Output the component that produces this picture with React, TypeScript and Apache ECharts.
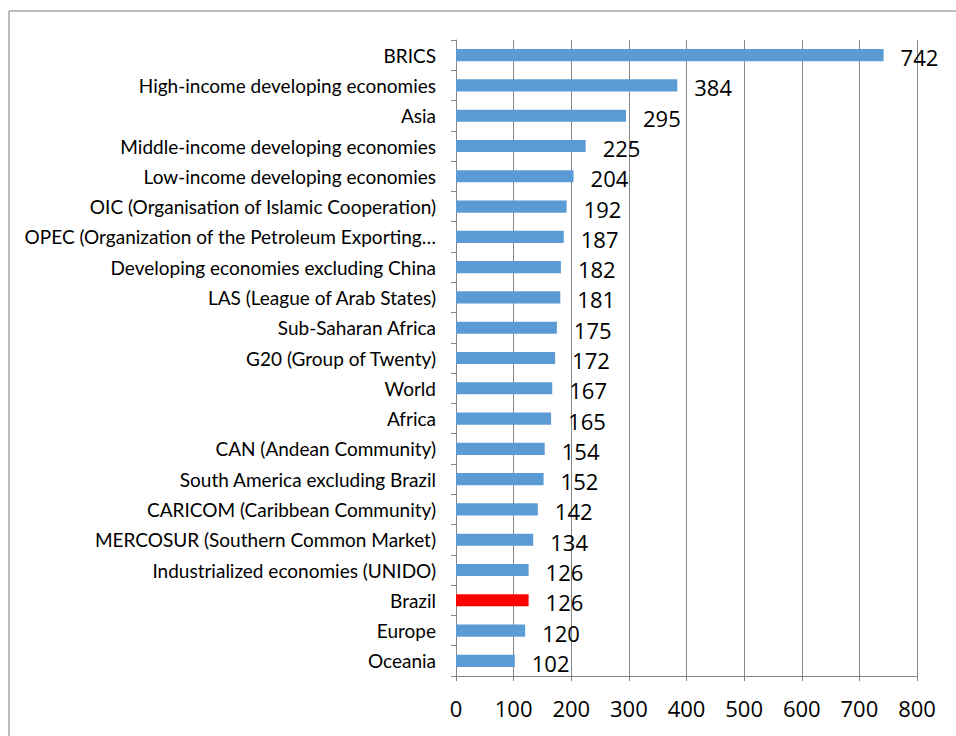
import React, { useEffect, useRef } from "react";
import * as echarts from "echarts";

const categories: string[] = [
  "BRICS",
  "High-income developing economies",
  "Asia",
  "Middle-income developing economies",
  "Low-income developing economies",
  "OIC (Organisation of Islamic Cooperation)",
  "OPEC (Organization of the Petroleum Exporting Countries)",
  "Developing economies excluding China",
  "LAS (League of Arab States)",
  "Sub-Saharan Africa",
  "G20 (Group of Twenty)",
  "World",
  "Africa",
  "CAN (Andean Community)",
  "South America excluding Brazil",
  "CARICOM (Caribbean Community)",
  "MERCOSUR (Southern Common Market)",
  "Industrialized economies (UNIDO)",
  "Brazil",
  "Europe",
  "Oceania",
];

const values: number[] = [
  742, 384, 295, 225, 204, 192, 187, 182, 181, 175, 172, 167, 165, 154, 152, 142, 134, 126, 126, 120, 102,
];

const highlight = "Brazil";
const xTicks: number[] = [0, 100, 200, 300, 400, 500, 600, 700, 800];

const LABEL_FONT = "Lato, sans-serif";
const FONT = "'Open Sans', sans-serif";

export default function App() {
  const ref = useRef<HTMLDivElement>(null);
  useEffect(() => {
    if (!ref.current) return;
    const chart = echarts.init(ref.current, undefined, { renderer: "svg" });
    chart.setOption({
      animation: false,
      backgroundColor: "#ffffff",
      textStyle: { fontFamily: FONT },
      graphic: [
        {
          type: "line",
          shape: { x1: 9, y1: 11, x2: 9, y2: 760 },
          style: { stroke: "#a6a6a6", lineWidth: 1.5 },
          silent: true,
        },
        {
          type: "line",
          shape: { x1: 9, y1: 11, x2: 1000, y2: 11 },
          style: { stroke: "#a6a6a6", lineWidth: 1.5 },
          silent: true,
        },
      ],
      grid: { left: 456, right: 39, top: 40, bottom: 60, containLabel: false },
      xAxis: {
        type: "value",
        min: xTicks[0],
        max: xTicks[xTicks.length - 1],
        interval: 100,
        axisLine: { show: true, lineStyle: { color: "#868686", width: 1 } },
        axisTick: { show: true, length: 5, lineStyle: { color: "#868686" } },
        splitLine: { show: true, lineStyle: { color: "#868686", width: 1 } },
        axisLabel: { fontSize: 22, color: "#000", margin: 21, fontFamily: FONT },
      },
      yAxis: {
        type: "category",
        inverse: true,
        data: categories,
        axisLine: { show: true, lineStyle: { color: "#868686", width: 1 } },
        axisTick: { show: true, length: 5, alignWithLabel: false, lineStyle: { color: "#868686" } },
        axisLabel: {
          fontSize: 19,
          color: "#000",
          margin: 20,
          width: 421,
          overflow: "truncate",
          ellipsis: "…",
          fontFamily: LABEL_FONT,
        },
      },
      series: [
        {
          type: "bar",
          barCategoryGap: "60%",
          data: values.map((v, i) => ({
            value: v,
            itemStyle: { color: categories[i] === highlight ? "#ff0000" : "#5b9bd5" },
          })),
          label: {
            show: true,
            position: "right",
            distance: 17,
            offset: [0, 2],
            fontSize: 22,
            color: "#000",
            fontFamily: FONT,
          },
        },
      ],
    });
    return () => chart.dispose();
  }, []);
  return (
    <div
      ref={ref}
      style={{ position: "fixed", left: 0, top: 0, width: 956, height: 736 }}
    />
  );
}
